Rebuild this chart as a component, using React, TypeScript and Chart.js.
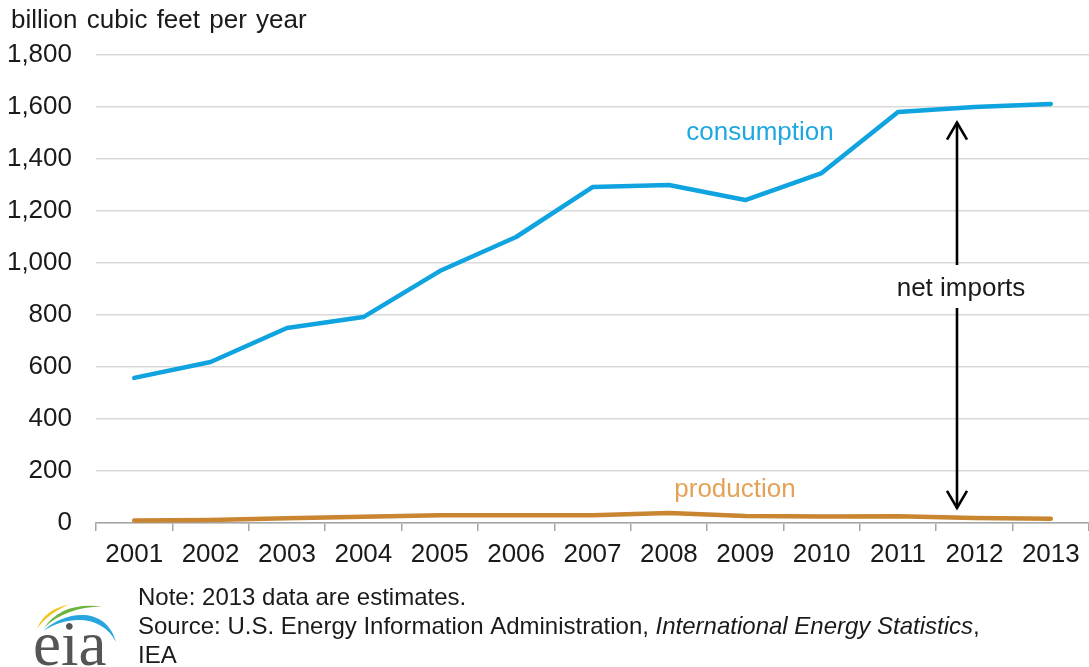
import { useEffect, useRef } from "react";
import { Chart, registerables } from "chart.js";

Chart.register(...registerables);

// Annual natural gas balance, billion cubic feet per year
const years = ["2001", "2002", "2003", "2004", "2005", "2006", "2007", "2008", "2009", "2010", "2011", "2012", "2013"];
const consumption = [558, 619, 750, 792, 969, 1100, 1292, 1300, 1242, 1346, 1581, 1600, 1612];
const production = [10, 12, 18, 24, 30, 30, 30, 38, 27, 25, 26, 19, 16];

const yTicks = [0, 200, 400, 600, 800, 1000, 1200, 1400, 1600, 1800];

// Span of the "net imports" arrow, in axis units
const arrowTop = 1540;
const arrowBottom = 58;

const FONT = "'Liberation Sans', Arial, sans-serif";
const BLUE = "#0fa3df";
const ORANGE = "#c98530";

// Small crescent-shaped swoosh used in the agency logo
function swoosh(
  ctx: CanvasRenderingContext2D,
  color: string,
  outer: number[],
  inner: number[]
) {
  ctx.fillStyle = color;
  ctx.beginPath();
  ctx.moveTo(outer[0], outer[1]);
  ctx.bezierCurveTo(outer[2], outer[3], outer[4], outer[5], outer[6], outer[7]);
  ctx.bezierCurveTo(inner[0], inner[1], inner[2], inner[3], outer[0], outer[1]);
  ctx.closePath();
  ctx.fill();
}

const annotations = {
  id: "annotations",
  afterDraw(chart: any) {
    const ctx = chart.ctx as CanvasRenderingContext2D;
    const y = chart.scales.y;
    ctx.save();

    // axis unit title
    ctx.fillStyle = "#1a1a1a";
    ctx.font = `26px ${FONT}`;
    ctx.textAlign = "left";
    ctx.textBaseline = "alphabetic";
    (ctx as any).wordSpacing = "2px";
    ctx.fillText("billion cubic feet per year", 11, 28);
    (ctx as any).wordSpacing = "0px";

    // series labels
    ctx.textAlign = "center";
    ctx.textBaseline = "middle";
    ctx.fillStyle = "#1fa8e0";
    ctx.fillText("consumption", 760, 133);
    ctx.fillStyle = "#e3a257";
    ctx.fillText("production", 735, 490);

    // net imports arrow
    const ax = 957;
    const yt = y.getPixelForValue(arrowTop);
    const yb = y.getPixelForValue(arrowBottom);
    const gapTop = 265;
    const gapBottom = 308;
    ctx.strokeStyle = "#000";
    ctx.lineWidth = 2.6;
    ctx.lineCap = "butt";
    ctx.beginPath();
    ctx.moveTo(ax, yt);
    ctx.lineTo(ax, gapTop);
    ctx.moveTo(ax, gapBottom);
    ctx.lineTo(ax, yb);
    ctx.stroke();
    ctx.lineJoin = "miter";
    ctx.beginPath();
    ctx.moveTo(ax - 10, yt + 17);
    ctx.lineTo(ax, yt);
    ctx.lineTo(ax + 10, yt + 17);
    ctx.moveTo(ax - 10, yb - 17);
    ctx.lineTo(ax, yb);
    ctx.lineTo(ax + 10, yb - 17);
    ctx.stroke();

    ctx.fillStyle = "#1a1a1a";
    ctx.fillText("net imports", 961, 289);

    // footer notes
    ctx.textAlign = "left";
    ctx.textBaseline = "alphabetic";
    ctx.font = `24px ${FONT}`;
    ctx.fillText("Note: 2013 data are estimates.", 138, 605);
    const src = "Source: U.S. Energy Information Administration, ";
    ctx.fillText(src, 138, 634);
    let x = 138 + ctx.measureText(src).width;
    ctx.font = `italic 24px ${FONT}`;
    const ital = "International Energy Statistics";
    ctx.fillText(ital, x, 634);
    x += ctx.measureText(ital).width;
    ctx.font = `24px ${FONT}`;
    ctx.fillText(",", x, 634);
    ctx.fillText("IEA", 138, 663);

    // eia logo
    swoosh(ctx, "#f4c51c", [37, 629, 42, 616, 52, 608, 69, 604.5], [54, 611, 44, 619]);
    swoosh(ctx, "#6db33f", [44, 628, 56, 610, 76, 603, 102, 606.5], [78, 607, 58, 614]);
    swoosh(ctx, "#27a5de", [43, 631, 66, 610, 106, 606, 116, 642], [103, 616, 70, 614]);

    ctx.fillStyle = "#555";
    ctx.font = "63px 'Liberation Serif', 'DejaVu Serif', serif";
    ctx.fillText("eia", 33, 665);

    ctx.restore();
  },
};

export default function App() {
  const canvasRef = useRef<HTMLCanvasElement | null>(null);

  useEffect(() => {
    document.body.style.margin = "0";
    const canvas = canvasRef.current;
    if (!canvas) return;

    const chart = new Chart(canvas, {
      type: "line",
      data: {
        labels: years,
        datasets: [
          {
            label: "consumption",
            data: consumption,
            borderColor: BLUE,
            borderWidth: 4.5,
            pointRadius: 0,
            tension: 0,
            borderCapStyle: "round",
            borderJoinStyle: "round",
          },
          {
            label: "production",
            data: production,
            borderColor: ORANGE,
            borderWidth: 4.5,
            pointRadius: 0,
            tension: 0,
            borderCapStyle: "round",
            borderJoinStyle: "round",
          },
        ],
      },
      options: {
        animation: false,
        responsive: false,
        maintainAspectRatio: false,
        devicePixelRatio: 1,
        layout: { padding: { top: 55, right: 0, left: 0, bottom: 0 } },
        plugins: {
          legend: { display: false },
          tooltip: { enabled: false },
        },
        scales: {
          x: {
            type: "category",
            offset: true,
            grid: {
              offset: true,
              drawOnChartArea: false,
              drawTicks: true,
              tickLength: 8,
              color: "#a6a6a6",
              lineWidth: 1.5,
            },
            border: { display: true, color: "#a6a6a6", width: 1.5 },
            ticks: {
              color: "#1a1a1a",
              font: { family: FONT, size: 26 },
              padding: 8,
              maxRotation: 0,
              autoSkip: false,
            },
            afterFit(scale: any) {
              scale.height = 144;
            },
          },
          y: {
            min: 0,
            max: 1800,
            afterBuildTicks(scale: any) {
              scale.ticks = yTicks.map((v) => ({ value: v }));
            },
            grid: { color: "#d9d9d9", lineWidth: 1.5, drawTicks: false },
            border: { display: false },
            ticks: {
              color: "#1a1a1a",
              font: { family: FONT, size: 26 },
              padding: 24,
              callback: (v: any) => Number(v).toLocaleString("en-US"),
            },
            afterFit(scale: any) {
              scale.width = 96;
            },
          },
        },
      },
      plugins: [annotations],
    });

    return () => chart.destroy();
  }, []);

  return (
    <div style={{ width: 1089, height: 667, background: "#fff" }}>
      <canvas ref={canvasRef} width={1089} height={667} style={{ display: "block" }} />
    </div>
  );
}
